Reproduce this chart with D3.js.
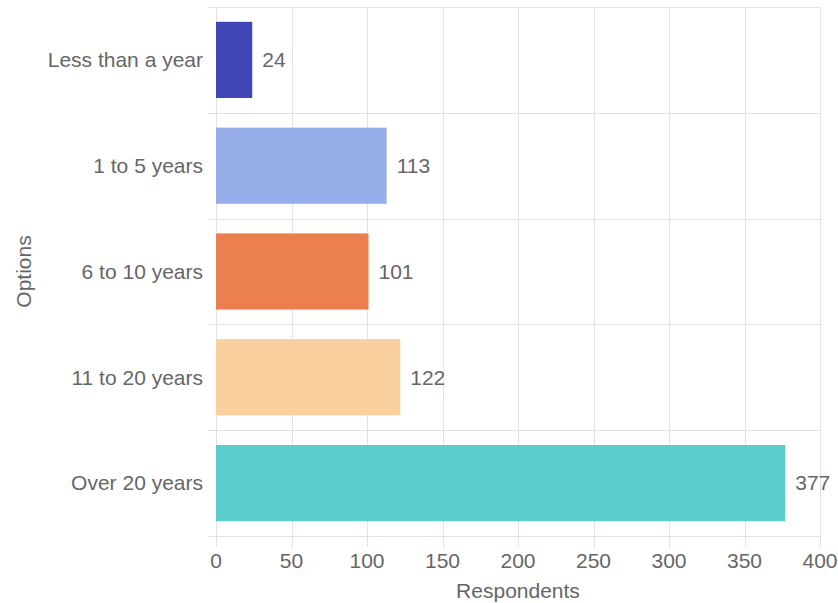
<!DOCTYPE html>
<html><head><meta charset="utf-8">
<script src="https://cdn.jsdelivr.net/npm/d3@7"></script>
<style>body{margin:0;background:#fff}svg{display:block}text{font-family:"Liberation Sans",Arial,sans-serif}</style>
</head><body><svg id="c" width="838" height="603"></svg>
<script>
const categories = ["Less than a year","1 to 5 years","6 to 10 years","11 to 20 years","Over 20 years"];
const values = [24,113,101,122,377];
const colors = ["#4046b6","#97aeeb","#ec7f4f","#f8cf9d","#58cdcb"];
const xTicks = [0,50,100,150,200,250,300,350,400];
const xTitle = "Respondents", yTitle = "Options";

const svg = d3.select("#c");
const L=216,R=820,T=7,B=536;
const FS=21, TC="#666";
const x = d3.scaleLinear().domain([0,400]).range([L,R]);
const y = d3.scaleBand().domain(categories).range([T,B]).paddingInner(0.28).paddingOuter(0.14);
const step = y.step();
const grid = svg.append("g").attr("stroke","#e2e2e2").attr("stroke-width",1);
xTicks.forEach(t=>{grid.append("line").attr("x1",Math.round(x(t))+0.5).attr("x2",Math.round(x(t))+0.5).attr("y1",T).attr("y2",B+11);});
const bounds=[T].concat(categories.map(c=>y(c)-y.paddingOuter()*step+step));
bounds.forEach(b=>{grid.append("line").attr("x1",L-8).attr("x2",R).attr("y1",Math.round(b)+0.5).attr("y2",Math.round(b)+0.5);});

svg.append("g").selectAll("rect").data(values).join("rect")
 .attr("x",x(0)).attr("y",(d,i)=>y(categories[i])).attr("height",y.bandwidth())
 .attr("width",d=>x(d)-x(0)).attr("fill",(d,i)=>colors[i]);

svg.append("g").selectAll("text").data(values).join("text")
 .attr("x",d=>x(d)+10).attr("y",(d,i)=>y(categories[i])+y.bandwidth()/2).attr("dy","0.35em")
 .attr("font-size",FS).attr("fill",TC).text(d=>d);

svg.append("g").selectAll("text").data(categories).join("text")
 .attr("x",L-13).attr("y",d=>y(d)+y.bandwidth()/2).attr("dy","0.35em").attr("text-anchor","end")
 .attr("font-size",FS).attr("fill",TC).text(d=>d);

svg.append("g").selectAll("text").data(xTicks).join("text")
 .attr("x",d=>x(d)).attr("y",561).attr("dy","0.35em").attr("text-anchor","middle")
 .attr("font-size",FS).attr("fill",TC).text(d=>d);

svg.append("text").attr("x",(L+R)/2).attr("y",591).attr("dy","0.35em").attr("text-anchor","middle")
 .attr("font-size",FS).attr("fill",TC).text(xTitle);
svg.append("text").attr("transform",`translate(24,${(T+B)/2}) rotate(-90)`).attr("dy","0.35em").attr("text-anchor","middle")
 .attr("font-size",FS).attr("fill",TC).text(yTitle);
</script></body></html>
